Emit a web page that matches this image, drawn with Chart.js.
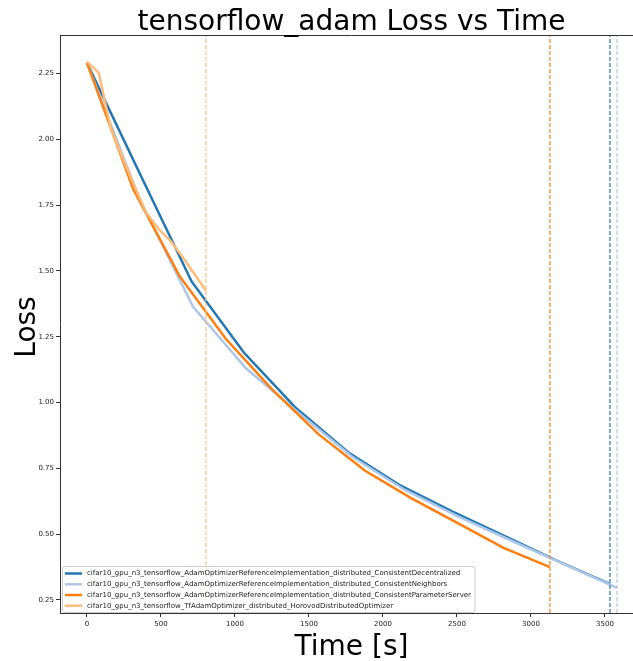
<!DOCTYPE html>
<html>
<head>
<meta charset="utf-8">
<script src="https://cdn.jsdelivr.net/npm/chart.js@4"></script>
<style>
  html, body { margin: 0; padding: 0; background: #fff; overflow: hidden; }
  #outer { width: 633px; height: 661px; overflow: hidden; position: relative; }
  #wrap { width: 700px; height: 661px; position: absolute; left: 0; top: 0; }
</style>
</head>
<body>
<div id="outer"><div id="wrap"><canvas id="myChart"></canvas></div></div>
<script>
// подписи
const TITLE = 'tensorflow_adam Loss vs Time';
const X_TITLE = 'Time [s]';
const Y_TITLE = 'Loss';

const SERIES_NAMES = [
  'cifar10_gpu_n3_tensorflow_AdamOptimizerReferenceImplementation_distributed_ConsistentDecentralized',
  'cifar10_gpu_n3_tensorflow_AdamOptimizerReferenceImplementation_distributed_ConsistentNeighbors',
  'cifar10_gpu_n3_tensorflow_AdamOptimizerReferenceImplementation_distributed_ConsistentParameterServer',
  'cifar10_gpu_n3_tensorflow_TfAdamOptimizer_distributed_HorovodDistributedOptimizer'
];
const SERIES_COLORS = ['#1f77b4', '#aec7e8', '#ff7f0e', '#ffbb78'];

// время (с) и loss для каждого запуска
const decentralizedTime = [0, 353, 707, 1060, 1414, 1767, 2120, 2474, 2827, 3181, 3534];
const decentralizedLoss = [2.29, 1.875, 1.46, 1.19, 0.978, 0.81, 0.684, 0.585, 0.492, 0.398, 0.31];

const neighborsTime = [0, 358, 716, 1074, 1432, 1790, 2149, 2507, 2865, 3223, 3581];
const neighborsLoss = [2.29, 1.77, 1.365, 1.13, 0.96, 0.795, 0.668, 0.568, 0.476, 0.386, 0.296];

const paramServerTime = [0, 313, 626, 938, 1251, 1564, 1877, 2190, 2502, 2815, 3128];
const paramServerLoss = [2.29, 1.81, 1.48, 1.242, 1.05, 0.88, 0.742, 0.637, 0.543, 0.448, 0.375];

const horovodTime = [0, 80, 161, 241, 322, 402, 483, 563, 644, 724, 804];
const horovodLoss = [2.295, 2.252, 2.04, 1.93, 1.82, 1.72, 1.66, 1.615, 1.555, 1.49, 1.425];

// тики осей
const X_TICKS = [0, 500, 1000, 1500, 2000, 2500, 3000, 3500];
const Y_TICKS = [0.25, 0.5, 0.75, 1.0, 1.25, 1.5, 1.75, 2.0, 2.25];

const X_MIN = -182, X_MAX = 3757;
const Y_MIN = 0.2006, Y_MAX = 2.396;

const FONT = '"DejaVu Sans", sans-serif';

const times = [decentralizedTime, neighborsTime, paramServerTime, horovodTime];
const losses = [decentralizedLoss, neighborsLoss, paramServerLoss, horovodLoss];

function toPoints(t, l) {
  return t.map((x, i) => ({ x: x, y: l[i] }));
}

const datasets = [];
// сами кривые
for (let i = 0; i < 4; i++) {
  datasets.push({
    label: SERIES_NAMES[i],
    data: toPoints(times[i], losses[i]),
    borderColor: SERIES_COLORS[i],
    borderWidth: 2.5,
    pointRadius: 0,
    tension: 0,
    fill: false,
    order: 10 - i
  });
}
// пунктир в конце каждого запуска
for (let i = 0; i < 4; i++) {
  const tEnd = times[i][times[i].length - 1];
  datasets.push({
    label: '',
    data: [{ x: tEnd, y: Y_MIN }, { x: tEnd, y: Y_MAX }],
    borderColor: SERIES_COLORS[i],
    borderWidth: 1.2,
    borderDash: [4, 2],
    pointRadius: 0,
    fill: false,
    order: 5 - i
  });
}

// заголовок, подписи осей, верхняя рамка и легенда внутри графика
const decor = {
  id: 'decor',
  afterDraw(chart) {
    const ctx = chart.ctx;
    const a = chart.chartArea;
    ctx.save();

    ctx.strokeStyle = '#333';
    ctx.lineWidth = 1;
    ctx.beginPath();
    ctx.moveTo(a.left, a.top + 0.5);
    ctx.lineTo(a.right, a.top + 0.5);
    ctx.stroke();

    ctx.fillStyle = '#000';
    ctx.font = '28px ' + FONT;
    ctx.textAlign = 'center';
    ctx.textBaseline = 'alphabetic';
    const cx = (a.left + a.right) / 2;
    ctx.fillText(TITLE, cx, 30);
    ctx.fillText(X_TITLE, cx, 655);

    ctx.save();
    ctx.translate(35, (a.top + a.bottom) / 2 + 3);
    ctx.rotate(-Math.PI / 2);
    ctx.fillText(Y_TITLE, 0, 0);
    ctx.restore();

    // легенда
    ctx.font = '7px ' + FONT;
    let maxW = 0;
    SERIES_NAMES.forEach(n => { maxW = Math.max(maxW, ctx.measureText(n).width); });
    const bx = 62.5, by = 566.5, bh = 46;
    const bw = 87 - bx + maxW + 4;
    ctx.fillStyle = 'rgba(255,255,255,0.8)';
    ctx.strokeStyle = '#cccccc';
    ctx.lineWidth = 1;
    ctx.beginPath();
    ctx.roundRect(bx, by, bw, bh, 2);
    ctx.fill();
    ctx.stroke();

    const rows = [573.5, 584.3, 595, 605.7];
    ctx.textAlign = 'left';
    ctx.textBaseline = 'middle';
    for (let i = 0; i < 4; i++) {
      ctx.strokeStyle = SERIES_COLORS[i];
      ctx.lineWidth = 2.5;
      ctx.beginPath();
      ctx.moveTo(65, rows[i]);
      ctx.lineTo(82, rows[i]);
      ctx.stroke();
      ctx.fillStyle = '#222';
      ctx.fillText(SERIES_NAMES[i], 87, rows[i]);
    }
    ctx.restore();
  }
};

const ctx = document.getElementById('myChart').getContext('2d');
const myChart = new Chart(ctx, {
  type: 'line',
  data: { datasets: datasets },
  options: {
    responsive: true,
    maintainAspectRatio: false,
    animation: false,
    layout: { padding: { top: 35, right: 57, left: 0, bottom: 0 } },
    plugins: {
      legend: { display: false },
      tooltip: { enabled: false },
      title: { display: false }
    },
    scales: {
      x: {
        type: 'linear',
        min: X_MIN,
        max: X_MAX,
        afterBuildTicks: s => { s.ticks = X_TICKS.map(v => ({ value: v })); },
        afterFit: s => { s.height = 48; },
        grid: { drawOnChartArea: false, drawTicks: true, tickLength: 4, color: '#333' },
        border: { display: true, color: '#333', width: 1 },
        ticks: {
          color: '#222',
          font: { family: FONT, size: 7 },
          padding: 3,
          maxRotation: 0,
          callback: v => String(v)
        }
      },
      y: {
        type: 'linear',
        min: Y_MIN,
        max: Y_MAX,
        afterBuildTicks: s => { s.ticks = Y_TICKS.map(v => ({ value: v })); },
        afterFit: s => { s.width = 60; },
        grid: { drawOnChartArea: false, drawTicks: true, tickLength: 4, color: '#333' },
        border: { display: true, color: '#333', width: 1 },
        ticks: {
          color: '#222',
          font: { family: FONT, size: 7 },
          padding: 2,
          callback: v => v.toFixed(2)
        }
      }
    }
  },
  plugins: [decor]
});
</script>
</body>
</html>
